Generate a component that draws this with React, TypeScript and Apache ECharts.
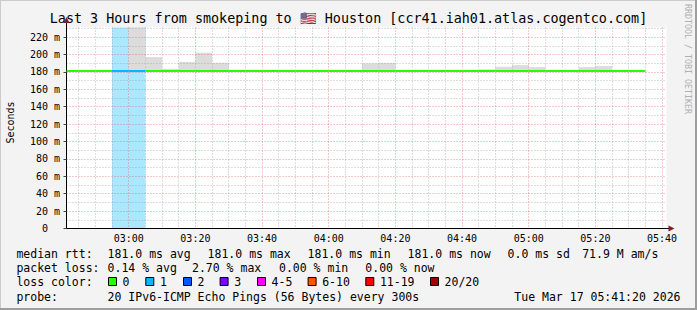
import React, { useEffect, useRef } from "react";
import * as echarts from "echarts";

// ---------------- data ----------------
const chartTitle = "Last 3 Hours from smokeping to 🇺🇸 Houston [ccr41.iah01.atlas.cogentco.com]";
const yAxisTitle = "Seconds";
const rangeStart = "02:41:20";
const rangeEnd = "05:41:20";
const stepMinutes = 5;

const intervalStart = [
  "02:40", "02:45", "02:50", "02:55", "03:00", "03:05", "03:10", "03:15", "03:20", "03:25",
  "03:30", "03:35", "03:40", "03:45", "03:50", "03:55", "04:00", "04:05", "04:10", "04:15",
  "04:20", "04:25", "04:30", "04:35", "04:40", "04:45", "04:50", "04:55", "05:00", "05:05",
  "05:10", "05:15", "05:20", "05:25", "05:30",
];
const medianMs = [
  181, 181, 181, 181, 181, 181, 181, 181, 181, 181,
  181, 181, 181, 181, 181, 181, 181, 181, 181, 181,
  181, 181, 181, 181, 181, 181, 181, 181, 181, 181,
  181, 181, 181, 181, 181,
];
const smokeMaxMs = [
  181, 181, 181, 181, 240, 197, 183.5, 191.5, 202, 190.5,
  181, 181, 181, 181, 181, 181, 181, 181, 189.7, 190.4,
  181, 181, 181, 181, 181, 183, 186, 187.8, 185.5, 181,
  181, 185.5, 186.6, 181, 181,
];
const lostPings = [
  0, 0, 0, 1, 1, 0, 0, 0, 0, 0,
  0, 0, 0, 0, 0, 0, 0, 0, 0, 0,
  0, 0, 0, 0, 0, 0, 0, 0, 0, 0,
  0, 0, 0, 0, 0,
];

const xTickLabels = ["03:00", "03:20", "03:40", "04:00", "04:20", "04:40", "05:00", "05:20", "05:40"];
const yTickValues = [0, 20, 40, 60, 80, 100, 120, 140, 160, 180, 200, 220];
const yMinorValues = [10, 30, 50, 70, 90, 110, 130, 150, 170, 190, 210, 230];
const yMax = 231;

const lossColorLabels = ["0", "1", "2", "3", "4-5", "6-10", "11-19", "20/20"];
const lossColorHex = ["#26ff00", "#00b8ff", "#0059ff", "#7e00ff", "#ff00ff", "#ff5500", "#ff0000", "#a10000"];

const legendRow1Label = "median rtt:";
const legendRow1Items = ["181.0 ms avg", "181.0 ms max", "181.0 ms min", "181.0 ms now", "0.0 ms sd", "71.9 M am/s"];
const legendRow2Label = "packet loss:";
const legendRow2Items = ["0.14 % avg", "2.70 % max", "0.00 % min", "0.00 % now"];
const legendRow3Label = "loss color:";
const legendRow4Label = "probe:";
const probeText = "20 IPv6-ICMP Echo Pings (56 Bytes) every 300s";
const dateText = "Tue Mar 17 05:41:20 2026";
const watermark = "RRDTOOL / TOBI OETIKER";

// ---------------- layout ----------------
const W = 697;
const H = 310;
const GRID_LEFT = 66.5;
const GRID_TOP = 27.5;
const GRID_W = 600;
const GRID_H = 201;
const MONO = "'DejaVu Sans Mono', monospace";
const LEG_FS = 11.5;
const LEG_LABEL_X = 16.4;
const row1X = [107.6, 207.6, 307.6, 407.6, 507.6, 582.2];
const row2X = [107.6, 192, 279, 365.3];
const swatchX = [108, 145.3, 183, 219.6, 257, 307.6, 365.3, 430];
const rowY = [254, 268, 282, 296.5];

function toMin(s: string): number {
  const p = s.split(":").map(Number);
  return p[0] * 60 + p[1] + (p[2] || 0) / 60;
}
function fmt(v: number): string {
  const h = Math.floor(v / 60);
  const m = Math.round(v - h * 60);
  return String(h).padStart(2, "0") + ":" + String(m).padStart(2, "0");
}
function lossIndex(l: number): number {
  if (l <= 3) return l;
  if (l <= 5) return 4;
  if (l <= 10) return 5;
  if (l <= 19) return 6;
  return 7;
}
function hexA(hex: string, a: number): string {
  const r = parseInt(hex.slice(1, 3), 16);
  const g = parseInt(hex.slice(3, 5), 16);
  const b = parseInt(hex.slice(5, 7), 16);
  return `rgba(${r},${g},${b},${a})`;
}

export default function App() {
  const ref = useRef<HTMLDivElement>(null);
  useEffect(() => {
    if (!ref.current) return;
    const chart = echarts.init(ref.current, undefined, { renderer: "svg" });
    const xMin = toMin(rangeStart);
    const xMax = toMin(rangeEnd);
    const xMajor = xTickLabels.map(toMin);
    const xMinor: number[] = [];
    for (let t = Math.ceil(xMin / stepMinutes) * stepMinutes; t <= xMax; t += stepMinutes) {
      if (!xMajor.includes(t)) xMinor.push(t);
    }
    const rows = intervalStart.map((s, i) => {
      const a = toMin(s);
      return [a, a + stepMinutes, medianMs[i], smokeMaxMs[i], lostPings[i]];
    });

    const clipRect = (r: any, cs: any) => echarts.graphic.clipRectByRect(r, cs);

    const red = "rgba(222,79,79,0.6)";
    const gray = "rgba(143,143,143,0.6)";

    const graphics: any[] = [];
    // frame shading
    graphics.push({ type: "rect", shape: { x: 0, y: 0, width: W, height: 1 }, style: { fill: "#cbcbcb" }, silent: true });
    graphics.push({ type: "rect", shape: { x: 0, y: 0, width: 1, height: H }, style: { fill: "#cbcbcb" }, silent: true });
    graphics.push({ type: "rect", shape: { x: W - 2, y: 0, width: 2, height: H }, style: { fill: "#9e9e9e" }, silent: true });
    graphics.push({ type: "rect", shape: { x: 0, y: H - 2, width: W, height: 2 }, style: { fill: "#9e9e9e" }, silent: true });
    // title
    graphics.push({
      type: "text", x: W / 2, y: 18,
      style: { text: chartTitle, fill: "#000", font: `13.4px ${MONO}`, align: "center", verticalAlign: "middle" },
    });
    // y axis title
    graphics.push({
      type: "text", x: 10.5, y: 122.5, rotation: Math.PI / 2,
      style: { text: yAxisTitle, fill: "#000", font: `10px ${MONO}`, align: "center", verticalAlign: "middle" },
    });
    // watermark
    graphics.push({
      type: "text", x: 688, y: 4, rotation: -Math.PI / 2,
      style: { text: watermark, fill: "#b0b0b0", font: `8.3px ${MONO}`, align: "left", verticalAlign: "middle" },
    });
    // axis arrows
    const axX = GRID_LEFT;
    const axY = GRID_TOP + GRID_H;
    graphics.push({ type: "line", shape: { x1: axX, y1: GRID_TOP, x2: axX, y2: 21 }, style: { stroke: "#000", lineWidth: 1 } });
    graphics.push({ type: "polygon", shape: { points: [[axX - 3, 23], [axX + 3, 23], [axX, 17]] }, style: { fill: "#7f1f1f" } });
    graphics.push({ type: "line", shape: { x1: GRID_LEFT + GRID_W, y1: axY, x2: GRID_LEFT + GRID_W + 3, y2: axY }, style: { stroke: "#000", lineWidth: 1 } });
    graphics.push({ type: "polygon", shape: { points: [[GRID_LEFT + GRID_W + 2, axY - 3], [GRID_LEFT + GRID_W + 2, axY + 3], [GRID_LEFT + GRID_W + 8, axY]] }, style: { fill: "#7f1f1f" } });
    // legend
    const txt = (text: string, x: number, y: number, align = "left") => ({
      type: "text", x, y,
      style: { text, fill: "#000", font: `${LEG_FS}px ${MONO}`, align, verticalAlign: "middle" },
    });
    graphics.push(txt(legendRow1Label, LEG_LABEL_X, rowY[0]));
    legendRow1Items.forEach((t, i) => graphics.push(txt(t, row1X[i], rowY[0])));
    graphics.push(txt(legendRow2Label, LEG_LABEL_X, rowY[1]));
    legendRow2Items.forEach((t, i) => graphics.push(txt(t, row2X[i], rowY[1])));
    graphics.push(txt(legendRow3Label, LEG_LABEL_X, rowY[2]));
    lossColorLabels.forEach((t, i) => {
      graphics.push({
        type: "rect", shape: { x: swatchX[i] + 0.5, y: rowY[2] - 4.5, width: 8, height: 8 },
        style: { fill: lossColorHex[i], stroke: "#000", lineWidth: 1 },
      });
      graphics.push(txt(t, swatchX[i] + 14.6, rowY[2]));
    });
    graphics.push(txt(legendRow4Label, LEG_LABEL_X, rowY[3]));
    graphics.push(txt(probeText, 107.6, rowY[3]));
    graphics.push(txt(dateText, 680.5, rowY[3], "right"));

    const option: any = {
      animation: false,
      backgroundColor: "#f3f3f3",
      grid: {
        left: GRID_LEFT, top: GRID_TOP, width: GRID_W, height: GRID_H,
        show: true, backgroundColor: "#ffffff", borderWidth: 0, containLabel: false,
        outerBoundsMode: "none",
      },
      xAxis: [
        {
          type: "value", min: xMin, max: xMax, position: "bottom", z: 5,
          axisLine: { show: true, onZero: false, lineStyle: { color: "#000", width: 1 } },
          axisTick: { show: false, customValues: xMajor },
          axisLabel: {
            customValues: xMajor, formatter: (v: number) => fmt(v), margin: 5,
            fontFamily: MONO, fontSize: 10, color: "#000",
          },
          splitLine: { show: true, lineStyle: { color: red, width: 1, type: [1, 2] } },
        },
        {
          type: "value", min: xMin, max: xMax, position: "bottom", z: 4,
          axisLine: { show: false },
          axisTick: { show: false, customValues: xMinor },
          axisLabel: { show: false, customValues: xMinor },
          splitLine: { show: true, lineStyle: { color: gray, width: 1, type: [1, 2] } },
        },
      ],
      yAxis: [
        {
          type: "value", min: 0, max: yMax, z: 5,
          axisLine: { show: true, lineStyle: { color: "#000", width: 1 } },
          axisTick: { show: true, customValues: yTickValues, length: 3, lineStyle: { color: "#444" } },
          axisLabel: {
            customValues: yTickValues, align: "right", margin: 6.5,
            fontFamily: MONO, fontSize: 10, color: "#000",
            formatter: (v: number) => (v === 0 ? "{z|0}" : `${v} m`),
            rich: { z: { fontFamily: MONO, fontSize: 10, color: "#000", padding: [0, 12, 0, 0] } },
          },
          splitLine: { show: true, lineStyle: { color: red, width: 1, type: [1, 2] } },
        },
        {
          type: "value", min: 0, max: yMax, z: 4,
          axisLine: { show: false },
          axisTick: { show: false, customValues: yMinorValues },
          axisLabel: { show: false, customValues: yMinorValues },
          splitLine: { show: true, lineStyle: { color: gray, width: 1, type: [1, 2] } },
        },
      ],
      series: [
        {
          type: "custom", name: "loss", z: 1, xAxisIndex: 0, yAxisIndex: 0,
          data: rows,
          encode: { x: [0, 1], y: [2, 3] },
          renderItem: (params: any, api: any) => {
            const lost = api.value(4);
            if (!lost) return null;
            const cs = params.coordSys;
            const p0 = api.coord([api.value(0), 0]);
            const p1 = api.coord([api.value(1), 0]);
            const r = clipRect({ x: p0[0], y: cs.y, width: p1[0] - p0[0], height: cs.height }, cs);
            if (!r) return null;
            return { type: "rect", shape: r, style: { fill: hexA(lossColorHex[lossIndex(lost)], 0.33) } };
          },
        },
        {
          type: "custom", name: "smoke", z: 2, xAxisIndex: 0, yAxisIndex: 0,
          data: rows,
          encode: { x: [0, 1], y: [2, 3] },
          renderItem: (params: any, api: any) => {
            const top = api.coord([api.value(0), api.value(3)]);
            const bot = api.coord([api.value(1), api.value(2)]);
            const r = clipRect({ x: top[0], y: top[1], width: bot[0] - top[0], height: bot[1] - top[1] }, params.coordSys);
            if (!r || r.height <= 0) return null;
            return { type: "rect", shape: r, style: { fill: "#dcdcdc" } };
          },
        },
        {
          type: "custom", name: "median", z: 10, xAxisIndex: 0, yAxisIndex: 0,
          data: rows,
          encode: { x: [0, 1], y: [2, 3] },
          renderItem: (params: any, api: any) => {
            const cs = params.coordSys;
            const a = api.coord([api.value(0), api.value(2)]);
            const b = api.coord([api.value(1), api.value(2)]);
            const x1 = Math.max(a[0], cs.x);
            const x2 = Math.min(b[0], cs.x + cs.width);
            if (x2 <= x1) return null;
            return {
              type: "rect",
              shape: { x: x1, y: a[1] - 1, width: x2 - x1, height: 2 },
              style: { fill: lossColorHex[lossIndex(api.value(4))] },
            };
          },
        },
      ],
      graphic: graphics,
    };
    chart.setOption(option);
    return () => chart.dispose();
  }, []);
  return <div ref={ref} style={{ position: "fixed", left: 0, top: 0, width: W, height: H }} />;
}
